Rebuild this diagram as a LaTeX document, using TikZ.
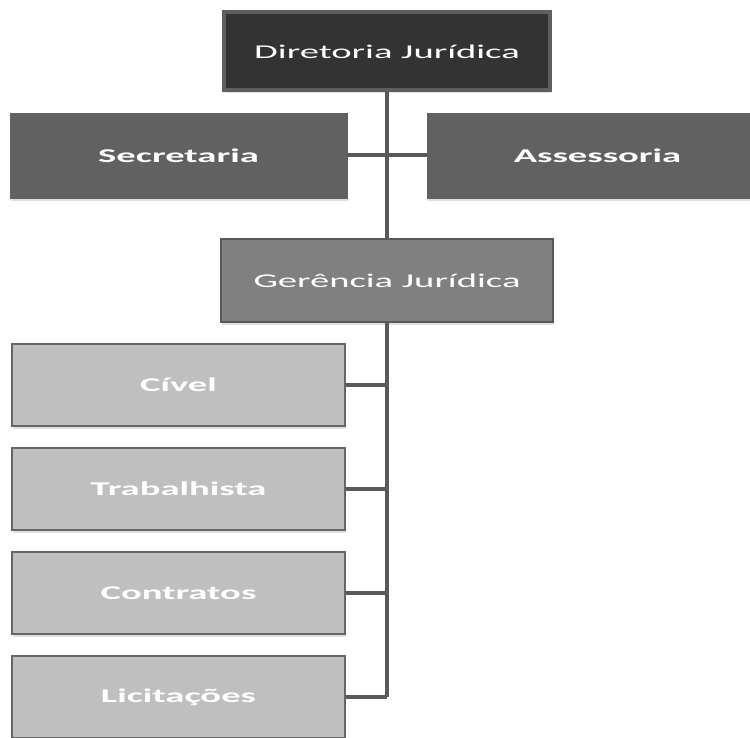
\documentclass[tikz,border=0pt]{standalone}
\usepackage{fontspec}
\newfontfamily\lab[FakeStretch=1.98]{Carlito}
\usetikzlibrary{shadows}
\definecolor{topfill}{HTML}{333333}
\definecolor{topline}{HTML}{5E5E5E}
\definecolor{midfill}{HTML}{616161}
\definecolor{gerfill}{HTML}{808080}
\definecolor{lowfill}{HTML}{BFBFBF}
\definecolor{lowline}{HTML}{666666}
\definecolor{conn}{HTML}{595959}
\tikzset{
  box/.style={rectangle, inner sep=0pt, text=white,
    font=\lab\fontsize{19.5}{22}\selectfont,
    drop shadow={shadow xshift=1pt, shadow yshift=-3pt, fill=black, opacity=0.12}},
  topbox/.style={box, fill=topfill, draw=topline, line width=4pt,
    minimum width=326pt, minimum height=78pt},
  sidebox/.style={box, fill=midfill, draw=midfill, line width=0.5pt,
    minimum width=337pt, minimum height=85pt, font=\lab\bfseries\fontsize{19.5}{22}\selectfont},
  gerbox/.style={box, fill=gerfill, draw=conn, line width=2.5pt,
    minimum width=332pt, minimum height=83pt},
  lowbox/.style={box, fill=lowfill, draw=lowline, line width=2.5pt,
    minimum width=333pt, minimum height=82pt, font=\lab\bfseries\fontsize{19.5}{22}\selectfont},
  link/.style={draw=conn, line width=4pt}
}
\begin{document}
\begin{tikzpicture}[x=1pt,y=-1pt]
\useasboundingbox (0,0) rectangle (750,738);
\node[topbox] (dir) at (387,51.5) {Diretoria Jurídica};
\node[sidebox] (sec) at (178.5,155.5) {Secretaria};
\node[sidebox, minimum width=341pt] (ass) at (597.5,155.5) {Assessoria};
\node[gerbox] (ger) at (387,280.5) {Gerência Jurídica};
\node[lowbox] (civ) at (178.5,385) {Cível};
\node[lowbox] (tra) at (178.5,489) {Trabalhista};
\node[lowbox] (con) at (178.5,593) {Contratos};
\node[lowbox] (lic) at (178.5,697) {Licitações};
\coordinate (bot) at (387,697);
\draw[link] (dir.south) -- (ger.north);
\draw[link] (sec.east) -- (ass.west);
\draw[link] (ger.south) -- (bot);
\draw[link] (civ.east) -- (civ.east -| bot);
\draw[link] (tra.east) -- (tra.east -| bot);
\draw[link] (con.east) -- (con.east -| bot);
\draw[link] (lic.east) -- (bot);
\end{tikzpicture}
\end{document}
